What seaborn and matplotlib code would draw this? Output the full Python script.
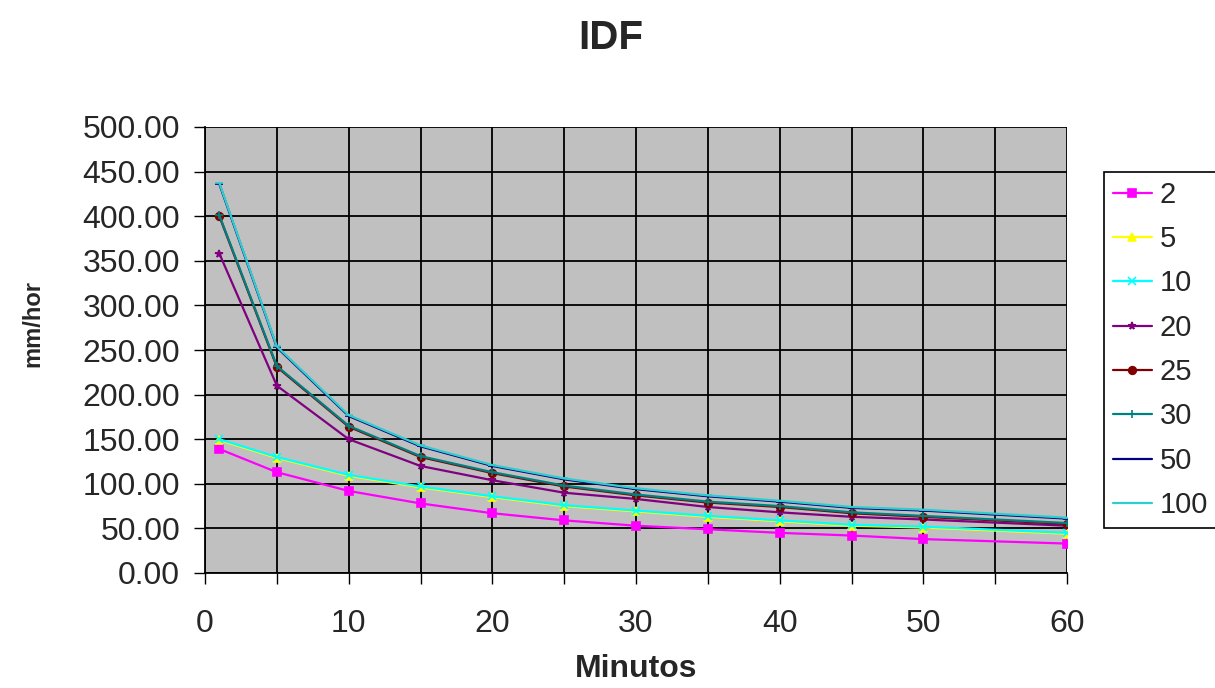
import matplotlib
matplotlib.use("Agg")
import matplotlib.pyplot as plt
import seaborn as sns
import pandas as pd
import numpy as np

# ---- data ----
minutes = [1, 5, 10, 15, 20, 25, 30, 35, 40, 45, 50, 60]
periods = ["2", "5", "10", "20", "25", "30", "50", "100"]
t2   = [139, 113, 92, 78, 67, 59, 53, 49, 45, 42, 38, 33]
t5   = [149, 129, 109, 96, 85, 75, 69, 63, 58, 53, 51, 44]
t10  = [150, 130, 110, 97, 86, 76, 70, 64, 59, 54, 52, 45]
t20  = [358, 210, 150, 120, 104, 90, 83, 74, 68, 63, 60, 53]
t25  = [400, 231, 164, 130, 112, 97, 87, 79, 74, 67, 63, 55]
t30  = [401, 232, 165, 131, 113, 98, 88, 80, 75, 68, 64, 56]
t50  = [436, 253, 176, 142, 120, 105, 94, 86, 80, 73, 70, 61]
t100 = [437, 254, 177, 143, 121, 106, 95, 87, 81, 74, 71, 62]
series = [t2, t5, t10, t20, t25, t30, t50, t100]

title = "IDF"
xlabel = "Minutos"
ylabel = "mm/hor"

rows = []
for p, vals in zip(periods, series):
    for m, v in zip(minutes, vals):
        rows.append({"Minutos": m, "mm/hor": v, "T": p})
df = pd.DataFrame(rows)

colors = {"2": "#FF00FF", "5": "#FFFF00", "10": "#00FFFF", "20": "#800080",
          "25": "#800000", "30": "#008080", "50": "#000080", "100": "#33CCCC"}
markers = {"2": "s", "5": "^", "10": "x", "20": "*", "25": "o", "30": "+",
           "50": "_", "100": "_"}

sns.set_theme(style="white")
plt.rcParams["font.family"] = ["Liberation Sans", "DejaVu Sans"]

fig = plt.figure(figsize=(12.15, 6.88), dpi=100)
ax = fig.add_axes([205/1215, 1-573/688, (1067-205)/1215, (573-127)/688])
ax.set_facecolor("#C0C0C0")

for p in periods:
    sub = df[df["T"] == p]
    sns.lineplot(data=sub, x="Minutos", y="mm/hor", color=colors[p],
                 marker=markers[p], markersize=5.5, markeredgewidth=1.2,
                 markeredgecolor=colors[p], linewidth=1.6, ax=ax, label=p)

ax.set_xlim(0, 60)
ax.set_ylim(0, 500)
ax.set_yticks(np.arange(0, 501, 50))
ax.set_yticklabels([f"{v:.2f}" for v in np.arange(0, 501, 50)])
ax.set_xticks(np.arange(0, 61, 5))
ax.set_xticklabels([str(v) if v % 10 == 0 else "" for v in range(0, 61, 5)])
ax.grid(True, color="black", linewidth=1.3)
ax.set_axisbelow(True)
for s in ["top", "right"]:
    ax.spines[s].set_visible(False)
for s in ["left", "bottom"]:
    ax.spines[s].set_color("black")
    ax.spines[s].set_linewidth(1.3)
ax.tick_params(axis="both", which="major", direction="out", length=8,
               width=1, color="black", labelsize=23, bottom=True, left=True)
ax.tick_params(axis="y", pad=10)
ax.tick_params(axis="x", pad=18)

ax.set_xlabel(xlabel, fontsize=23, fontweight="bold", labelpad=11)
ax.set_ylabel(ylabel, fontsize=17, fontweight="bold")
ax.yaxis.set_label_coords(-0.186, 0.56)
fig.suptitle(title, fontsize=29, fontweight="bold", x=0.503, y=0.972)

handles, labels = ax.get_legend_handles_labels()
if ax.get_legend():
    ax.get_legend().remove()
leg = fig.legend(handles, labels, loc="upper left",
                 bbox_to_anchor=(1104/1215, 1-172/688), fontsize=21,
                 frameon=True, fancybox=False, edgecolor="black",
                 framealpha=1, handlelength=1.33, handletextpad=0.27,
                 labelspacing=0.56, borderpad=0.3, borderaxespad=0)
leg.get_frame().set_linewidth(1.2)

fig.savefig("out.png", dpi=100, facecolor="white")
